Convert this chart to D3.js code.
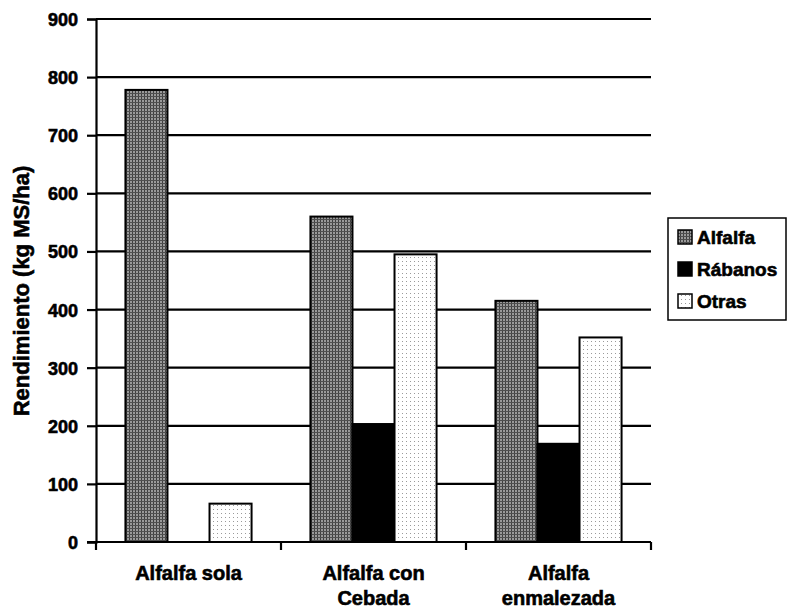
<!DOCTYPE html>
<html>
<head>
<meta charset="utf-8">
<script src="https://cdn.jsdelivr.net/npm/d3@7"></script>
<style>
  body { margin: 0; background: #fff; }
  svg { display: block; }
  text { font-family: "Liberation Sans", Arial, sans-serif; font-weight: bold; fill: #000; stroke: #000; stroke-width: 0.6px; }
</style>
</head>
<body>
<svg id="chart" width="788" height="611"></svg>
<script>
// Yield by treatment and component (kg MS/ha)
const categories = [["Alfalfa sola"], ["Alfalfa con", "Cebada"], ["Alfalfa", "enmalezada"]];
const seriesNames = ["Alfalfa", "Rábanos", "Otras"];
const alfalfa = [778, 560, 415];
const rabanos = [0, 203, 169];
const otras = [66, 495, 352];
const yTicks = [0, 100, 200, 300, 400, 500, 600, 700, 800, 900];

const seriesValues = [alfalfa, rabanos, otras];
const svg = d3.select("#chart");

// Fill patterns
const defs = svg.append("defs");
const pa = defs.append("pattern").attr("id", "pAlfalfa")
  .attr("patternUnits", "userSpaceOnUse").attr("width", 3).attr("height", 3);
pa.append("rect").attr("width", 3).attr("height", 3).attr("fill", "#9a9a9a");
pa.append("rect").attr("width", 1).attr("height", 3).attr("fill", "#404040");
pa.append("rect").attr("width", 3).attr("height", 1).attr("fill", "#505050");

const po = defs.append("pattern").attr("id", "pOtras")
  .attr("patternUnits", "userSpaceOnUse").attr("width", 4).attr("height", 4);
po.append("rect").attr("width", 4).attr("height", 4).attr("fill", "#fff");
po.append("rect").attr("x", 1).attr("y", 1).attr("width", 1).attr("height", 1).attr("fill", "#9a9a9a");

const fills = ["url(#pAlfalfa)", "#000", "url(#pOtras)"];

const margin = { left: 96, right: 137, top: 19, bottom: 69 };
const W = 788, H = 611;
const x0 = d3.scaleBand().domain(d3.range(categories.length))
  .range([margin.left, W - margin.right]).padding(0);
const x1 = d3.scaleBand().domain(d3.range(seriesNames.length))
  .range([0, x0.bandwidth()]).paddingInner(0).paddingOuter(0.7);
const y = d3.scaleLinear().domain([0, 900]).range([H - margin.bottom, margin.top]);

// Gridlines
svg.append("g").selectAll("line").data(yTicks.filter(d => d > 0)).join("line")
  .attr("x1", margin.left).attr("x2", W - margin.right)
  .attr("y1", d => y(d)).attr("y2", d => y(d))
  .attr("stroke", "#000").attr("stroke-width", 2.2);

// Bars
const groups = svg.append("g").selectAll("g").data(categories).join("g")
  .attr("transform", (d, i) => `translate(${x0(i)},0)`);
groups.each(function(cat, ci) {
  const g = d3.select(this);
  seriesValues.forEach((vals, si) => {
    const v = vals[ci];
    if (!v) return;
    g.append("rect")
      .attr("x", x1(si)).attr("width", x1.bandwidth())
      .attr("y", y(v)).attr("height", y(0) - y(v))
      .attr("fill", fills[si]).attr("stroke", "#000").attr("stroke-width", 2);
  });
});

// Y axis
const yAxis = svg.append("g").attr("transform", `translate(${margin.left},0)`)
  .call(d3.axisLeft(y).tickValues(yTicks).tickSize(9).tickPadding(9));
yAxis.select(".domain").attr("stroke-width", 2.2);
yAxis.selectAll(".tick line").attr("stroke-width", 2.2);
yAxis.selectAll(".tick text")
  .style("font-size", "18px").style("font-family", "'Liberation Sans', Arial, sans-serif")
  .style("font-weight", "bold").attr("dy", "0.36em");

// X axis
const xAxis = svg.append("g").attr("transform", `translate(0,${y(0)})`);
xAxis.append("line").attr("x1", margin.left - 9).attr("x2", W - margin.right)
  .attr("stroke", "#000").attr("stroke-width", 2.2);
xAxis.selectAll("line.tk").data(d3.range(categories.length + 1)).join("line")
  .attr("class", "tk")
  .attr("x1", i => margin.left + i * x0.bandwidth()).attr("x2", i => margin.left + i * x0.bandwidth())
  .attr("y1", 0).attr("y2", 8).attr("stroke", "#000").attr("stroke-width", 2.2);
xAxis.selectAll("text").data(categories).join("text")
  .attr("text-anchor", "middle")
  .attr("transform", (d, i) => `translate(${x0(i) + x0.bandwidth() / 2},${580 - y(0)})`)
  .style("font-size", "20px")
  .each(function(lines) {
    d3.select(this).selectAll("tspan").data(lines).join("tspan")
      .attr("x", 0).attr("dy", (d, k) => k === 0 ? 0 : 25).text(d => d);
  });

// Y axis title
svg.append("text")
  .attr("transform", "translate(29,291) rotate(-90)")
  .attr("text-anchor", "middle").style("font-size", "22px")
  .text("Rendimiento (kg MS/ha)");

// Legend
const lg = svg.append("g").attr("transform", "translate(668,218)");
lg.append("rect").attr("width", 118).attr("height", 102)
  .attr("fill", "#fff").attr("stroke", "#000").attr("stroke-width", 1.5);
seriesNames.forEach((name, i) => {
  const yy = 19 + i * 32;
  lg.append("rect").attr("x", 10).attr("y", yy - 7).attr("width", 14).attr("height", 14)
    .attr("fill", fills[i]).attr("stroke", "#000").attr("stroke-width", 1.5);
  lg.append("text").attr("x", 29).attr("y", yy + 7).style("font-size", "19px").text(name);
});
</script>
</body>
</html>
